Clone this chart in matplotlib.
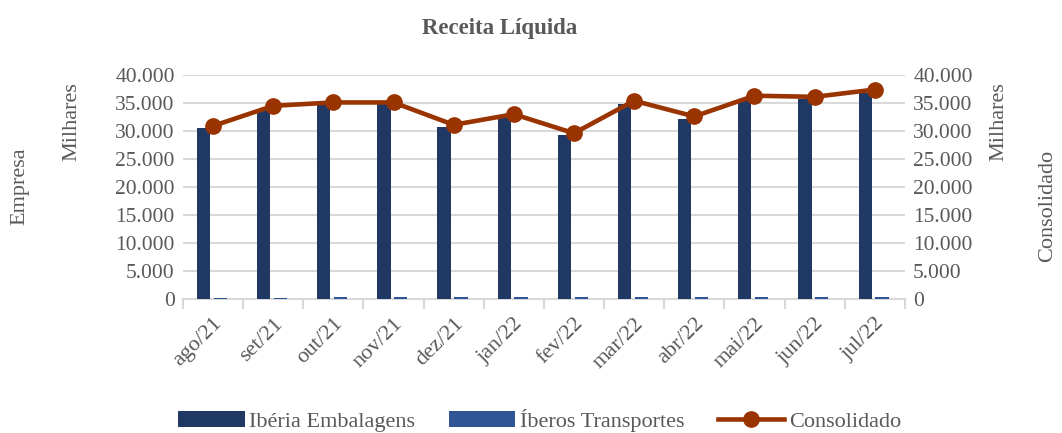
import matplotlib
matplotlib.use('Agg')
import matplotlib.pyplot as plt
import numpy as np
from matplotlib.ticker import FuncFormatter

plt.rcParams['font.family'] = ['Liberation Serif', 'DejaVu Serif']

# dados (em milhares)
meses = ['ago/21', 'set/21', 'out/21', 'nov/21', 'dez/21', 'jan/22',
         'fev/22', 'mar/22', 'abr/22', 'mai/22', 'jun/22', 'jul/22']
iberia = [30500, 33900, 34600, 34800, 30800, 32300,
          29300, 34900, 32100, 35800, 35700, 36800]
iberos = [250, 260, 270, 270, 280, 270, 280, 420, 380, 420, 440, 420]
consolidado = [30900, 34500, 35100, 35100, 31100, 33000,
               29600, 35400, 32600, 36300, 36100, 37400]

cor_texto = '#595959'
cor_grade = '#d9d9d9'


def milhar(v, pos):
    return f'{int(v):,}'.replace(',', '.')


fig = plt.figure(figsize=(10.62, 4.33), dpi=100)
ax = fig.add_axes([0.1723, 0.3095, 0.6797, 0.5173])
ax2 = ax.twinx()

x = np.arange(len(meses))
largura = 0.22
b1 = ax.bar(x - 0.16, iberia, largura, color='#203864', label='Ibéria Embalagens', zorder=3)
b2 = ax.bar(x + 0.12, iberos, largura, color='#2f5597', label='Íberos Transportes', zorder=3)
l1, = ax2.plot(x, consolidado, color='#993300', linewidth=3.3, marker='o',
               markersize=11, label='Consolidado', zorder=4)

for a in (ax, ax2):
    a.set_ylim(0, 40000)
    a.set_yticks(np.arange(0, 40001, 5000))
    a.yaxis.set_major_formatter(FuncFormatter(milhar))
    a.tick_params(axis='y', length=0, labelsize=15.5, labelcolor=cor_texto, pad=6)
    for s in a.spines.values():
        s.set_visible(False)

ax.set_xlim(-0.5, len(meses) - 0.5)
ax.grid(axis='y', color=cor_grade, linewidth=1.5, zorder=0)
ax.set_axisbelow(True)
ax.spines['bottom'].set_visible(True)
ax.spines['bottom'].set_color(cor_grade)
ax.spines['bottom'].set_linewidth(1.5)

# marcas entre categorias
ax.set_xticks(np.arange(-0.5, len(meses), 1.0))
ax.set_xticklabels([])
ax.tick_params(axis='x', which='major', length=7, width=1.5, color=cor_grade)
ax.set_xticks(x, minor=True)
ax.set_xticklabels(meses, minor=True, rotation=45, ha='right', va='top',
                   rotation_mode='anchor', fontsize=16, color=cor_texto)
ax.tick_params(axis='x', which='minor', length=0, pad=11)

# titulo e rótulos dos eixos
fig.text(0.47, 0.935, 'Receita Líquida', ha='center', va='center',
         fontsize=16.5, fontweight='bold', color=cor_texto)
fig.text(0.019, 0.57, 'Empresa', rotation=90, ha='center', va='center',
         fontsize=16, color=cor_texto)
fig.text(0.068, 0.72, 'Milhares', rotation=90, ha='center', va='center',
         fontsize=16, color=cor_texto)
fig.text(0.941, 0.72, 'Milhares', rotation=90, ha='center', va='center',
         fontsize=16, color=cor_texto)
fig.text(0.986, 0.525, 'Consolidado', rotation=90, ha='center', va='center',
         fontsize=16, color=cor_texto)

fig.legend(handles=[b1, b2, l1], loc='center', bbox_to_anchor=(0.508, 0.03),
           ncol=3, frameon=False, fontsize=16, handlelength=3.0, handletextpad=0.2,
           columnspacing=1.5, labelcolor=cor_texto)

fig.savefig('out.png', dpi=100)
